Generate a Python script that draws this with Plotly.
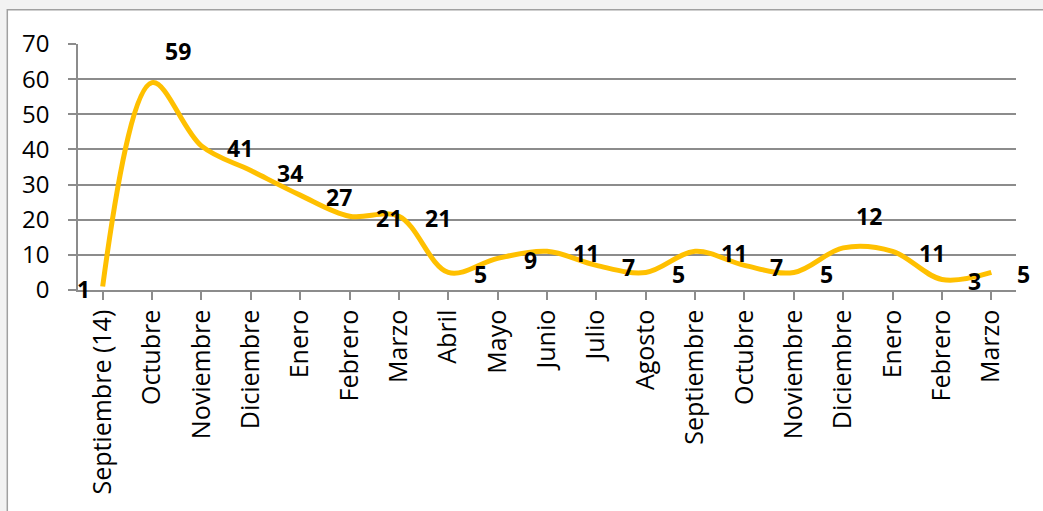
import plotly.graph_objects as go

months = ["Septiembre (14)", "Octubre", "Noviembre", "Diciembre", "Enero", "Febrero",
          "Marzo", "Abril", "Mayo", "Junio", "Julio", "Agosto", "Septiembre",
          "Octubre", "Noviembre", "Diciembre", "Enero", "Febrero", "Marzo"]
values = [1, 59, 41, 34, 27, 21, 21, 5, 9, 11, 7, 5, 11, 7, 5, 12, 11, 3, 5]
y_ticks = [0, 10, 20, 30, 40, 50, 60, 70]

# label placement style per point
label_pos = ["left", "above", "right", "right", "right", "right", "right", "right",
             "right", "right", "right", "right", "right", "right", "right", "above",
             "right", "right", "right"]
pos_style = {
    "left": dict(xanchor="right", xshift=-11, yshift=-3),
    "right": dict(xanchor="left", xshift=24, yshift=-2),
    "above": dict(xanchor="center", xshift=26, yshift=32),
}

x_idx = list(range(len(months)))

W, H = 1043, 511
L, R, T, B = 77.7, 27.3, 44.3, 221

fig = go.Figure()
fig.add_trace(go.Scatter(
    x=x_idx, y=values, mode="lines",
    line=dict(color="#FFC000", width=5, shape="spline", smoothing=1.0),
    hoverinfo="skip", showlegend=False,
))

font_family = "'Open Sans', Lato, sans-serif"
for i, v in enumerate(values):
    st = pos_style[label_pos[i]]
    fig.add_annotation(x=x_idx[i], y=v, text=str(v), showarrow=False,
                       yanchor="middle", font=dict(family=font_family, size=23,
                                                   color="black", weight="bold"),
                       **st)

pw = W - L - R
ph = H - T - B
# outer chart frame
fig.add_shape(type="rect", xref="paper", yref="paper",
              x0=(7 - L) / pw, x1=(W + 20 - L) / pw,
              y0=(H - B - (H + 20)) / ph, y1=(H - B - 10) / ph,
              line=dict(color="#a0a0a0", width=1.5), fillcolor="white", layer="below")

fig.update_layout(
    width=W, height=H,
    margin=dict(l=L, r=R, t=T, b=B, autoexpand=False),
    paper_bgcolor="#f2f2f2", plot_bgcolor="rgba(0,0,0,0)",
    font=dict(family=font_family, size=25, color="black"),
    xaxis=dict(
        tickmode="array", tickvals=x_idx, ticktext=months, tickangle=-90,
        range=[-0.5, len(months) - 0.5], tickson="boundaries",
        ticks="outside", ticklen=8, tickcolor="#8c8c8c", tickwidth=1.5,
        showline=True, linecolor="#8c8c8c", linewidth=1.5,
        showgrid=False, zeroline=False, ticklabelstandoff=0,
        tickfont=dict(size=25),
    ),
    yaxis=dict(
        range=[0, 70], tickvals=y_ticks, ticks="outside", ticklen=8,
        tickcolor="#8c8c8c", tickwidth=1.5,
        showline=True, linecolor="#8c8c8c", linewidth=1.5,
        showgrid=True, gridcolor="#8c8c8c", gridwidth=1.5, zeroline=False,
        ticklabelstandoff=14, tickfont=dict(size=24),
    ),
)

fig.write_html("out.html", config={"displayModeBar": False},
               post_script="document.body.style.margin='0px';"
                           "document.body.style.background='#f2f2f2';")
